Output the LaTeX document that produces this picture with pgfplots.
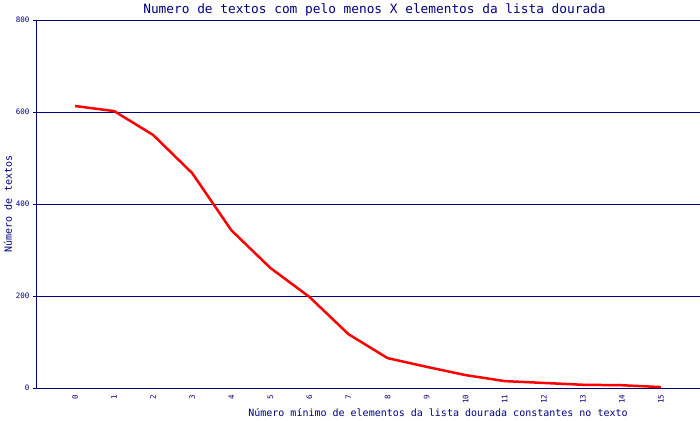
\documentclass[border=0pt]{standalone}
\usepackage{fontspec}
\setmainfont{DejaVu Sans Mono}
\usepackage{pgfplots}
\pgfplotsset{compat=1.18}
\definecolor{navy}{RGB}{0,0,128}
\begin{document}
\begin{tikzpicture}
\useasboundingbox (0pt,0pt) rectangle (700pt,420pt);
\begin{axis}[
  at={(36pt,32pt)}, anchor=south west,
  scale only axis, width=664pt, height=368pt,
  xmin=-1, xmax=16, ymin=0, ymax=800,
  axis lines*=left,
  axis line style={navy, line width=1pt},
  ymajorgrids, grid style={navy, line width=1pt},
  ytick={0,200,...,800}, xtick={0,...,15},
  tick align=outside, major tick length=3pt,
  ytick style={navy, line width=1pt},
  xtick style={draw=none},
  /pgf/number format/assume math mode=true,
  ticklabel style={font=\fontsize{7.5}{8}\selectfont, text=navy},
  xticklabel style={rotate=90, anchor=east},
]
\addplot[red, line width=2.5pt] coordinates {
(0,613) (1,602) (2,550) (3,467) (4,343) (5,261) (6,198) (7,117)
(8,65) (9,46) (10,28) (11,15) (12,11) (13,7) (14,6) (15,2)
};
\end{axis}
\node[text=navy, font=\fontsize{12.8}{15}\selectfont] at (374.5pt,410.5pt) {Numero de textos com pelo menos X elementos da lista dourada};
\node[text=navy, font=\fontsize{10}{12}\selectfont] at (438pt,7pt) {Número mínimo de elementos da lista dourada constantes no texto};
\node[text=navy, font=\fontsize{10}{12}\selectfont, rotate=90] at (8pt,216pt) {Número de textos};
\end{tikzpicture}
\end{document}
